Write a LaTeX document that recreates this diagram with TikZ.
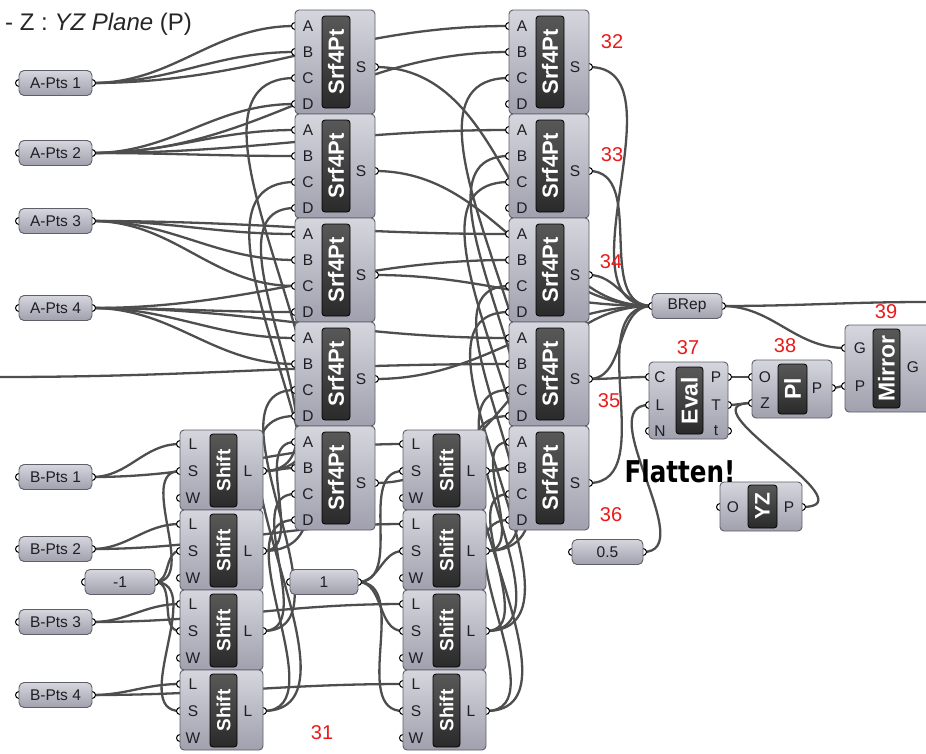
\documentclass[tikz,border=0pt]{standalone}
\usepackage{fontspec}
\setmainfont{Liberation Sans}
\newfontfamily\flatfont{DejaVu Sans}
\pgfdeclarelayer{wirelayer}
\pgfsetlayers{wirelayer,main}
\definecolor{bodytop}{RGB}{214,214,222}
\definecolor{bodybot}{RGB}{160,160,174}
\definecolor{bodyline}{RGB}{95,95,105}
\definecolor{bartop}{RGB}{88,88,88}
\definecolor{barbot}{RGB}{42,42,42}
\definecolor{wirec}{RGB}{78,78,78}
\definecolor{labc}{RGB}{30,30,35}
\definecolor{numred}{RGB}{235,25,25}
\tikzset{
  wire/.style={draw=wirec, line width=2.3pt},
  gw/.style={out=0,in=180,looseness=1},
  body/.style={rounded corners=4pt, top color=bodytop, bottom color=bodybot, draw=bodyline, line width=0.9pt},
  bar/.style={rounded corners=3pt, top color=bartop, bottom color=barbot, draw=black, line width=0.8pt},
  port/.style={fill=white, draw=black, line width=1pt},
  plab/.style={font=\fontsize{15.5}{15.5}\selectfont, text=labc, inner sep=0pt},
  bartext/.style={font=\fontsize{22}{22}\selectfont\bfseries, text=white, inner sep=0pt},
  ptext/.style={font=\fontsize{15.5}{15.5}\selectfont, text=labc, inner sep=0pt},
  num/.style={font=\fontsize{20}{20}\selectfont, text=numred, inner sep=0pt},
}
\newcommand{\ghSrf}[3]{%
  \foreach \p/\d in {A/16,B/42,C/68,D/94}{%
    \coordinate (#1-\p) at (#2,#3+\d);
    \draw[port] (#2,#3+\d) circle (3.5pt);}
  \coordinate (#1-S) at (#2+80,#3+57);
  \draw[port] (#1-S) circle (3.5pt);
  \draw[body] (#2,#3) rectangle (#2+80,#3+104);
  \draw[bar] (#2+27,#3+6) rectangle (#2+55,#3+98);
  \node[bartext,rotate=90] (#1-t) at (#2+41,#3+52) {Srf4Pt};
  \foreach \p/\d in {A/16,B/42,C/68,D/94}{\node[plab] (#1-l\p) at (#2+13,#3+\d) {\p};}
  \node[plab] (#1-lS) at (#2+66,#3+57) {S};
}
\newcommand{\ghShift}[3]{%
  \foreach \p/\d in {L/14,S/41,W/68}{%
    \coordinate (#1-\p) at (#2,#3+\d);
    \draw[port] (#2,#3+\d) circle (3.5pt);}
  \coordinate (#1-O) at (#2+83,#3+41);
  \draw[port] (#1-O) circle (3.5pt);
  \draw[body] (#2,#3) rectangle (#2+83,#3+80);
  \draw[bar] (#2+30,#3+4) rectangle (#2+57,#3+77);
  \node[bartext,font=\fontsize{19}{19}\selectfont\bfseries,rotate=90] (#1-t) at (#2+43.5,#3+40.5) {Shift};
  \foreach \p/\d in {L/14,S/41,W/68}{\node[plab] (#1-l\p) at (#2+13,#3+\d) {\p};}
  \node[plab] (#1-lO) at (#2+68,#3+41) {L};
}
\newcommand{\ghParam}[5]{%
  \coordinate (#1-in) at (#2,#3);
  \coordinate (#1-out) at (#2+#4,#3);
  \draw[port] (#1-in) circle (3.5pt);
  \draw[port] (#1-out) circle (3.5pt);
  \draw[body,rounded corners=5pt] (#2,#3-12.5) rectangle (#2+#4,#3+12.5);
  \node[ptext] (#1-t) at (#2+#4/2,#3) {#5};
}
\newcommand{\gw}[2]{\draw[wire] (#1) to[gw] (#2);}
\begin{document}
\begin{tikzpicture}[x=1pt,y=-1pt]
\useasboundingbox (0,0) rectangle (926,753);
\clip (0,0) rectangle (926,753);
% parameters
\ghParam{AP1}{19}{83}{73}{A-Pts 1}
\ghParam{AP2}{19}{153}{73}{A-Pts 2}
\ghParam{AP3}{19}{221}{73}{A-Pts 3}
\ghParam{AP4}{19}{308}{73}{A-Pts 4}
\ghParam{BP1}{19}{477}{73}{B-Pts 1}
\ghParam{BP2}{19}{549}{73}{B-Pts 2}
\ghParam{BP3}{19}{622}{73}{B-Pts 3}
\ghParam{BP4}{19}{695}{73}{B-Pts 4}
\ghParam{SLm}{85}{582}{70}{-1}
\ghParam{SLp}{290}{582}{68}{1}
\ghParam{SLh}{572}{552}{71}{0.5}
\ghParam{BRep}{652}{306}{70}{BRep}
% Srf4Pt columns
\ghSrf{P1}{295}{10}
\ghSrf{P2}{295}{114}
\ghSrf{P3}{295}{218}
\ghSrf{P4}{295}{322}
\ghSrf{P5}{295}{426}
\ghSrf{Q1}{509}{10}
\ghSrf{Q2}{509}{114}
\ghSrf{Q3}{509}{218}
\ghSrf{Q4}{509}{322}
\ghSrf{Q5}{509}{426}
% Shift columns
\ghShift{H1}{180}{430}
\ghShift{H2}{180}{510}
\ghShift{H3}{180}{590}
\ghShift{H4}{180}{670}
\ghShift{K1}{403}{430}
\ghShift{K2}{403}{510}
\ghShift{K3}{403}{590}
\ghShift{K4}{403}{670}
% Eval
\foreach \p/\d in {C/15,L/43,N/69}{\coordinate (EV-\p) at (649,362+\d); \draw[port] (649,362+\d) circle (3.5pt);}
\foreach \p/\d in {P/15,T/43,t/69}{\coordinate (EV-o\p) at (728,362+\d); \draw[port] (728,362+\d) circle (3.5pt);}
\draw[body] (649,362) rectangle (728,439);
\draw[bar] (676,367) rectangle (703,434);
\node[bartext,font=\fontsize{23}{23}\selectfont\bfseries,rotate=90] (EV-t) at (689.5,400.5) {Eval};
\foreach \p/\d in {C/15,L/43,N/69}{\node[plab] (EV-l\p) at (660,362+\d) {\p};}
\foreach \p/\d in {P/15,T/43,t/69}{\node[plab] (EV-m\p) at (716,362+\d) {\p};}
% Pl
\coordinate (PL-O) at (752,377); \coordinate (PL-Z) at (752,403); \coordinate (PL-P) at (832,388);
\draw[port] (PL-O) circle (3.5pt); \draw[port] (PL-Z) circle (3.5pt); \draw[port] (PL-P) circle (3.5pt);
\draw[body] (752,360) rectangle (832,418);
\draw[bar] (778,364) rectangle (807,414);
\node[bartext,font=\fontsize{23}{23}\selectfont\bfseries,rotate=90] (PL-t) at (792.5,389) {Pl};
\node[plab] (PL-lO) at (765,377) {O};
\node[plab] (PL-lZ) at (765,403) {Z};
\node[plab] (PL-lP) at (817,388) {P};
% Mirror
\coordinate (MI-G) at (845,348); \coordinate (MI-P) at (845,386); \coordinate (MI-o) at (940,367);
\draw[port] (MI-G) circle (3.5pt); \draw[port] (MI-P) circle (3.5pt);
\draw[body] (845,325) rectangle (940,412);
\draw[bar] (873,329) rectangle (900,408);
\node[bartext,font=\fontsize{23}{23}\selectfont\bfseries,rotate=90] (MI-t) at (886.5,368.5) {Mirror};
\node[plab] (MI-lG) at (860,348) {G};
\node[plab] (MI-lP) at (860,386) {P};
\node[plab] (MI-lo) at (913,367) {G};
% YZ
\coordinate (YZ-O) at (720,507); \coordinate (YZ-P) at (802,507);
\draw[port] (YZ-O) circle (3.5pt); \draw[port] (YZ-P) circle (3.5pt);
\draw[body] (720,482) rectangle (802,531);
\draw[bar] (748,485) rectangle (777,528);
\node[bartext,font=\fontsize{21}{21}\selectfont\bfseries,rotate=90] (YZ-t) at (762.5,506.5) {YZ};
\node[plab] (YZ-lO) at (733,507) {O};
\node[plab] (YZ-lP) at (789,507) {P};
% free ends
\coordinate (edgeL) at (0,377);
\coordinate (edgeR) at (926,302);
% labels
\node[num] (n32) at (612,42) {32};
\node[num] (n33) at (612,155) {33};
\node[num] (n34) at (611,262) {34};
\node[num] (n35) at (609,401) {35};
\node[num] (n36) at (611,515) {36};
\node[num] (n37) at (688,348) {37};
\node[num] (n38) at (785,346) {38};
\node[num] (n39) at (886,312) {39};
\node[num] (n31) at (322,733) {31};
\node[font=\flatfont\bfseries\fontsize{30}{30}\selectfont, xscale=0.82, transform shape, inner sep=0pt] (flat) at (680,471) {Flatten!};
\node[anchor=base west, font=\fontsize{24}{24}\selectfont, inner sep=0pt, text=black!85] (title) at (5,30) {- Z : \textit{YZ Plane} (P)};
% wires
\begin{pgfonlayer}{wirelayer}
\clip (0,0) rectangle (926,753);
\fill[white] (0,0) rectangle (926,753);
\foreach \a/\b in {AP1-out/P1-A, AP1-out/P1-B, AP1-out/Q1-A,
  AP2-out/P1-D, AP2-out/P2-A, AP2-out/P2-B, AP2-out/Q1-B, AP2-out/Q2-A,
  AP3-out/P3-A, AP3-out/P3-B, AP3-out/P3-C, AP3-out/Q3-A,
  AP4-out/P3-D, AP4-out/P4-A, AP4-out/P4-B, AP4-out/Q3-B, AP4-out/Q4-A,
  edgeL/Q4-B,
  BP1-out/H1-L, BP1-out/K1-L, BP2-out/H2-L, BP2-out/K2-L,
  BP3-out/H3-L, BP3-out/K3-L, BP4-out/H4-L, BP4-out/K4-L,
  SLm-out/H1-S, SLm-out/H2-S, SLm-out/H3-S, SLm-out/H4-S,
  SLp-out/K1-S, SLp-out/K2-S, SLp-out/K3-S, SLp-out/K4-S,
  H1-O/P1-C, H1-O/P2-D, H1-O/P5-B, H2-O/P2-C, H2-O/P5-A,
  H3-O/P4-C, H3-O/P5-C, H4-O/P4-D, H4-O/P5-D,
  K1-O/Q1-C, K1-O/Q2-B, K1-O/Q5-B, K2-O/Q2-C, K2-O/Q3-C, K2-O/Q5-A,
  K3-O/Q3-D, K3-O/Q4-C, K3-O/Q5-C, K4-O/Q4-D, K4-O/Q5-D,
  P1-S/BRep-in, P2-S/BRep-in, P3-S/BRep-in, P4-S/BRep-in, P5-S/BRep-in,
  Q1-S/BRep-in, Q2-S/BRep-in, Q3-S/BRep-in, Q4-S/BRep-in, Q5-S/BRep-in,
  Q4-S/EV-C, SLh-out/EV-L, EV-oP/PL-O, EV-oT/PL-Z, PL-P/MI-P,
  BRep-out/MI-G, BRep-out/edgeR}
  {\gw{\a}{\b}}
\draw[wire] (YZ-P) to[out=0,in=180,looseness=1.6] (PL-Z);
\end{pgfonlayer}
\end{tikzpicture}
\end{document}
